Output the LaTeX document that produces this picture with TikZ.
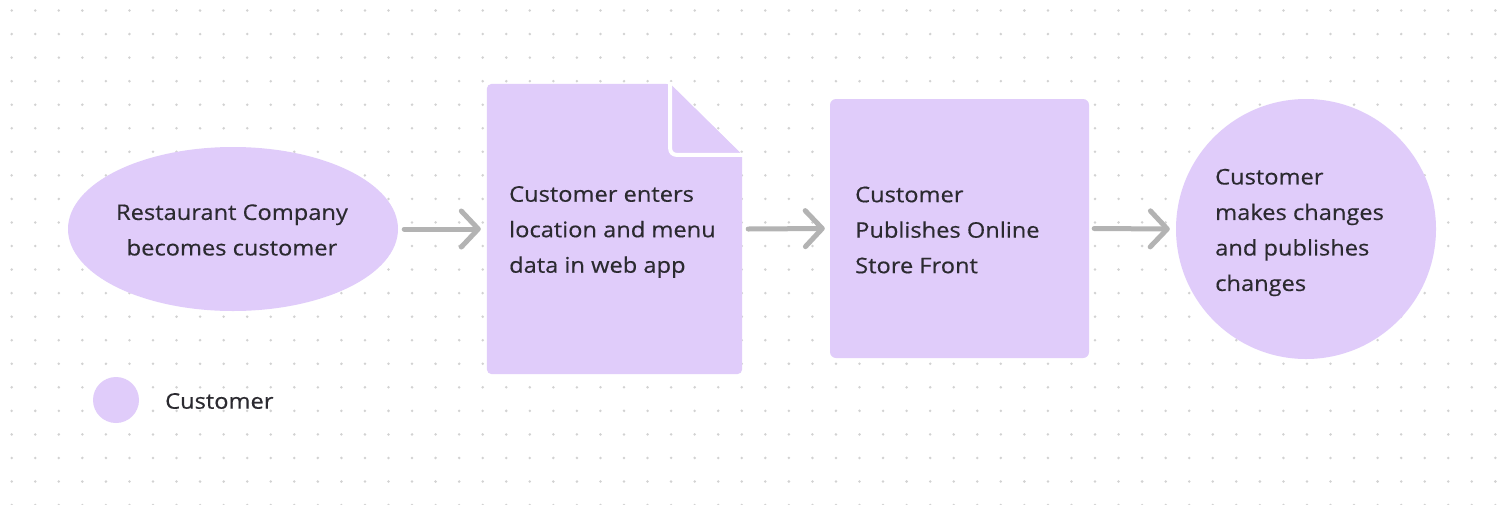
\documentclass[tikz,border=0pt]{standalone}
\usepackage{fontspec}
\setmainfont[FakeStretch=1.1,FakeBold=0.4]{Open Sans}
\usetikzlibrary{shapes.geometric,arrows.meta}
\definecolor{lav}{HTML}{E0CCFA}
\definecolor{arrowgray}{HTML}{B3B3B3}
\definecolor{dotgray}{HTML}{D2D2D2}
\definecolor{txt}{HTML}{2B2A30}
\tikzset{
  shapefill/.style={fill=lav, draw=none},
  lbl/.style={text=txt, font=\fontsize{21.5}{35.5}\selectfont, inner sep=0pt},
  flow/.style={draw=arrowgray, line width=5pt, line cap=round,
    -{Straight Barb[length=17pt, width=36pt, round]}},
}
\begin{document}
\begin{tikzpicture}[x=1pt,y=-1pt]
\useasboundingbox (0,0) rectangle (1498,504);
\fill[white] (0,0) rectangle (1498,504);
% dot grid
\foreach \i in {0,...,63}{
  \foreach \j in {0,...,21}{
    \fill[dotgray] ({11.7+23.55*\i},{10.5+23.55*\j}) circle (1.4);
  }
}
% ellipse
\node[ellipse, shapefill, minimum width=330, minimum height=164, inner sep=0pt] (start) at (233,229) {};
\node[lbl, align=center] (starttxt) at (232,230) {Restaurant Company\\becomes customer};
% document
\node[minimum width=255, minimum height=290, inner sep=0pt] (doc) at (614.5,229) {};
\fill[lav, rounded corners=5] (doc.south west) -- (doc.north west) -- ++(183,0) [sharp corners] -- ([yshift=-71]doc.north east) [rounded corners=5] -- (doc.south east) -- cycle;
\fill[lav] ([xshift=-72]doc.north east) -- ([yshift=-71]doc.north east) -- ([xshift=-72,yshift=-71]doc.north east) -- cycle;
\draw[white, line width=4pt, rounded corners=6] ([xshift=-72,yshift=2]doc.north east) -- ([xshift=-72,yshift=-71]doc.north east) -- ([xshift=2,yshift=-71]doc.north east);
\node[lbl, align=left, anchor=west] (doctxt) at (509,232) {Customer enters\\location and menu\\data in web app};
% rounded rectangle
\node[shapefill, rounded corners=6, minimum width=259, minimum height=259, inner sep=0pt] (pub) at (959.5,228.5) {};
\node[lbl, align=left, anchor=west] (pubtxt) at (855,230) {Customer\\Publishes Online\\Store Front};
% circle
\node[circle, shapefill, minimum size=260, inner sep=0pt] (chg) at (1306,229) {};
\node[lbl, align=left, anchor=west] (chgtxt) at (1215,232.5) {Customer\\makes changes\\and publishes\\changes};
% legend
\node[circle, shapefill, minimum size=46, inner sep=0pt] (leg) at (116,400) {};
\node[lbl, anchor=west] (legtxt) at (165,401) {Customer};
% arrows
\draw[flow] ([xshift=6]start.east) -- ([xshift=-6]doc.west);
\draw[flow] ([xshift=6]doc.east) -- ([xshift=-5]pub.west);
\draw[flow] ([xshift=5]pub.east) -- ([xshift=-6]chg.west);
\end{tikzpicture}
\end{document}
